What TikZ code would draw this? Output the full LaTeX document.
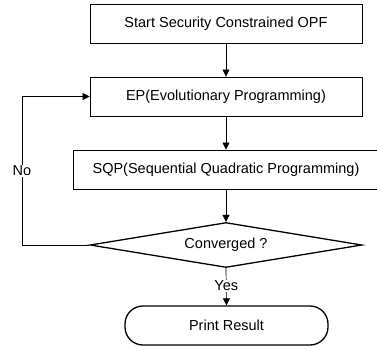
\documentclass[tikz,border=0pt]{standalone}
\usepackage{fontspec}
\setmainfont{Liberation Sans}
\usetikzlibrary{shapes.geometric,arrows.meta}

\tikzset{
  procbox/.style={draw, line width=0.9pt, minimum height=39pt, inner sep=0pt},
  decision/.style={draw, diamond, shape aspect=6.04, line width=1.3pt, minimum width=272pt, minimum height=45pt, inner sep=0pt},
  terminal/.style={draw, rectangle, rounded corners=18pt, line width=1.3pt, minimum width=203pt, minimum height=39pt, inner sep=0pt},
  flow/.style={line width=0.7pt, -{Triangle[length=7pt,width=7pt]}},
  lbl/.style={fill=white, inner sep=1pt}
}

\begin{document}
\begin{tikzpicture}[x=1pt, y=-1pt, font=\fontsize{14.5pt}{17pt}\selectfont]
  \useasboundingbox (0,0) rectangle (377,349);

  \node[procbox, minimum width=272pt] (start) at (226,23.5) {Start Security Constrained OPF};
  \node[procbox, minimum width=272pt] (ep) at (226,96.5) {EP(Evolutionary Programming)};
  \node[procbox, minimum width=306pt] (sqp) at (226,169.5) {SQP(Sequential Quadratic Programming)};
  \node[decision] (conv) at (226,245) {Converged ?};
  \node[terminal] (print) at (226.5,325.5) {Print Result};

  \coordinate (lb) at (22,245);
  \coordinate (lt) at (22,96.5);

  \draw[flow] (start) -- (ep);
  \draw[flow] (ep) -- (sqp);
  \draw[flow] (sqp) -- (conv);
  \draw[flow] (conv.south) -- node[lbl, pos=0.47] {Yes} (print.north);
  \draw[flow] (conv.west) -- (lb) -- node[lbl, pos=0.5] {No} (lt) -- (ep.west);
\end{tikzpicture}
\end{document}
